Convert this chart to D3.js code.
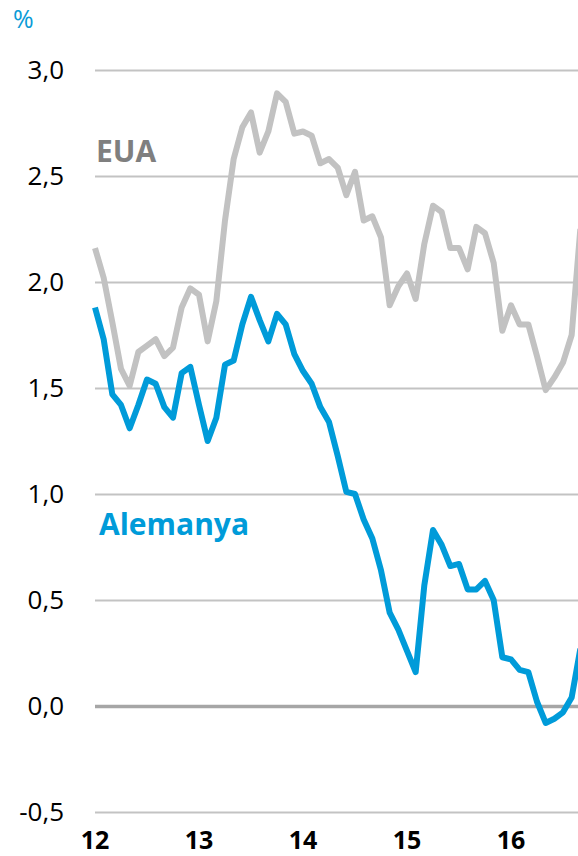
<!DOCTYPE html>
<html>
<head>
<meta charset="utf-8">
<script src="https://cdn.jsdelivr.net/npm/d3@7"></script>
<style>
  html, body { margin: 0; padding: 0; background: #fff; }
  svg { display: block; }
</style>
</head>
<body>
<svg id="chart" width="578" height="856"></svg>
<script>
// Monthly data, Jan 2012 onwards (10-year government bond yields, %)
const startYear = 2012;
const eua = [2.16, 2.02, 1.81, 1.59, 1.51, 1.67, 1.70, 1.73, 1.65, 1.69, 1.88, 1.97,
             1.94, 1.72, 1.91, 2.29, 2.58, 2.73, 2.80, 2.61, 2.71, 2.89, 2.85, 2.70,
             2.71, 2.69, 2.56, 2.58, 2.54, 2.41, 2.52, 2.29, 2.31, 2.21, 1.89, 1.98,
             2.04, 1.92, 2.18, 2.36, 2.33, 2.16, 2.16, 2.06, 2.26, 2.23, 2.09, 1.77,
             1.89, 1.80, 1.80, 1.65, 1.49, 1.55, 1.62, 1.75, 2.25];
const alemanya = [1.88, 1.73, 1.47, 1.42, 1.31, 1.42, 1.54, 1.52, 1.41, 1.36, 1.57, 1.60,
                  1.42, 1.25, 1.36, 1.61, 1.63, 1.80, 1.93, 1.82, 1.72, 1.85, 1.80, 1.66,
                  1.58, 1.52, 1.41, 1.34, 1.18, 1.01, 1.00, 0.88, 0.79, 0.64, 0.44, 0.36,
                  0.26, 0.16, 0.57, 0.83, 0.76, 0.66, 0.67, 0.55, 0.55, 0.59, 0.50, 0.23,
                  0.22, 0.17, 0.16, 0.02, -0.08, -0.06, -0.03, 0.04, 0.27];
const yTicks = [-0.5, 0, 0.5, 1.0, 1.5, 2.0, 2.5, 3.0];
const xTickLabels = ["12", "13", "14", "15", "16"];
const seriesLabels = ["EUA", "Alemanya"];
const unitLabel = "%";

const svg = d3.select("#chart");
const W = 578, H = 856;
const left = 95;
const monthW = 104 / 12;

const x = d3.scaleLinear().domain([0, eua.length - 1]).range([left, left + (eua.length - 1) * monthW]);
const y = d3.scaleLinear().domain([-0.5, 3.0]).range([812, 70]);

const fmt = v => d3.format(".1f")(v).replace(".", ",").replace("\u2212", "-");

// gridlines
const gy = d3.axisLeft(y).tickValues(yTicks).tickSize(-(W - left)).tickFormat("");
const gridG = svg.append("g").attr("transform", `translate(${left},0)`).call(gy);
gridG.select(".domain").remove();
gridG.selectAll(".tick line")
  .attr("stroke", d => d === 0 ? "#a6a6a6" : "#c3c3c3")
  .attr("stroke-width", d => d === 0 ? 3.5 : 2);

// y labels
svg.append("g").selectAll("text").data(yTicks).join("text")
  .attr("x", 64)
  .attr("y", d => y(d))
  .attr("dy", "0.36em")
  .attr("text-anchor", "end")
  .attr("font-family", "'Open Sans', sans-serif")
  .attr("font-size", 26)
  .attr("fill", "#000")
  .text(fmt);

// x labels
svg.append("g").selectAll("text").data(xTickLabels).join("text")
  .attr("x", (d, i) => x(i * 12))
  .attr("y", 849)
  .attr("text-anchor", "middle")
  .attr("font-family", "'Open Sans', sans-serif")
  .attr("font-weight", "bold")
  .attr("font-size", 25)
  .attr("fill", "#000")
  .text(d => d);

// unit
svg.append("text")
  .attr("x", 13).attr("y", 28)
  .attr("font-family", "'Open Sans', sans-serif")
  .attr("font-size", 25)
  .attr("fill", "#0a9bd7")
  .text(unitLabel);

const line = d3.line().x((d, i) => x(i)).y(d => y(d)).curve(d3.curveLinear);

svg.append("path").datum(eua)
  .attr("d", line)
  .attr("fill", "none")
  .attr("stroke", "#c2c2c2")
  .attr("stroke-width", 6)
  .attr("stroke-linejoin", "round");

svg.append("path").datum(alemanya)
  .attr("d", line)
  .attr("fill", "none")
  .attr("stroke", "#009bd9")
  .attr("stroke-width", 6)
  .attr("stroke-linejoin", "round");

// series labels
svg.append("text")
  .attr("x", 96).attr("y", 162)
  .attr("font-family", "'Open Sans', sans-serif")
  .attr("font-weight", "bold")
  .attr("font-size", 30)
  .attr("fill", "#7f7f7f")
  .text(seriesLabels[0]);

svg.append("text")
  .attr("x", 99).attr("y", 535)
  .attr("font-family", "'Open Sans', sans-serif")
  .attr("font-weight", "bold")
  .attr("font-size", 30)
  .attr("fill", "#009bd9")
  .text(seriesLabels[1]);
</script>
</body>
</html>
